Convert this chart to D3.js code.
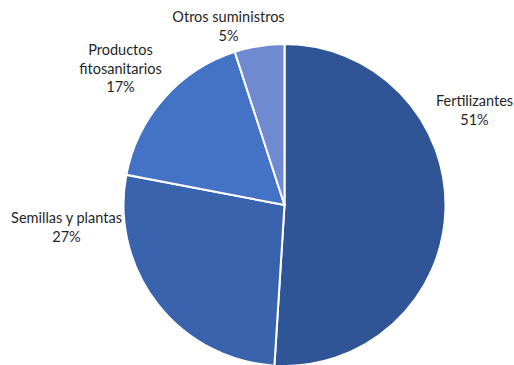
<!DOCTYPE html>
<html>
<head>
<meta charset="utf-8">
<script src="https://cdn.jsdelivr.net/npm/d3@7"></script>
<style>
  body { margin: 0; background: #fff; }
  text { font-family: Lato, "Open Sans", sans-serif; font-size: 14.5px; fill: #1f1f1f; }
</style>
</head>
<body>
<svg id="chart" width="514" height="365"></svg>
<script>
// data
var categories = ["Fertilizantes", "Semillas y plantas", "Productos fitosanitarios", "Otros suministros"];
var shares = [51, 27, 17, 5];
var colors = ["#2F5597", "#3A63AD", "#4472C4", "#6F8AD0"];

// label lines (category names wrapped as in the picture)
var labelLines = [["Fertilizantes"], ["Semillas y plantas"], ["Productos", "fitosanitarios"], ["Otros suministros"]];

var width = 514, height = 365;
var cx = 284.5, cy = 205, radius = 161;

var svg = d3.select("#chart");
var g = svg.append("g").attr("transform", "translate(" + cx + "," + cy + ")");

var pie = d3.pie().sort(null).value(function (d) { return d; });
var arcs = pie(shares);

var arc = d3.arc().innerRadius(0).outerRadius(radius);

g.selectAll("path.slice")
    .data(arcs)
    .enter()
    .append("path")
    .attr("class", "slice")
    .attr("d", arc)
    .attr("fill", function (d, i) { return colors[i]; })
    .attr("stroke", "#fff")
    .attr("stroke-width", 2);

// label anchors relative to the centre: best-fit style placement outside the pie
var labelOffsets = [[190, -99], [-218, 18], [-164, -150], [-56, -183]];
var lineH = 18.5;

var labels = g.selectAll("text.lbl")
    .data(arcs)
    .enter()
    .append("text")
    .attr("class", "lbl")
    .attr("text-anchor", "middle")
    .attr("transform", function (d, i) {
        return "translate(" + labelOffsets[i][0] + "," + labelOffsets[i][1] + ")";
    });

labels.each(function (d, i) {
    var t = d3.select(this);
    var lines = labelLines[i].concat([shares[i] + "%"]);
    lines.forEach(function (s, j) {
        t.append("tspan").attr("x", 0).attr("y", j * lineH).text(s);
    });
});
</script>
</body>
</html>
